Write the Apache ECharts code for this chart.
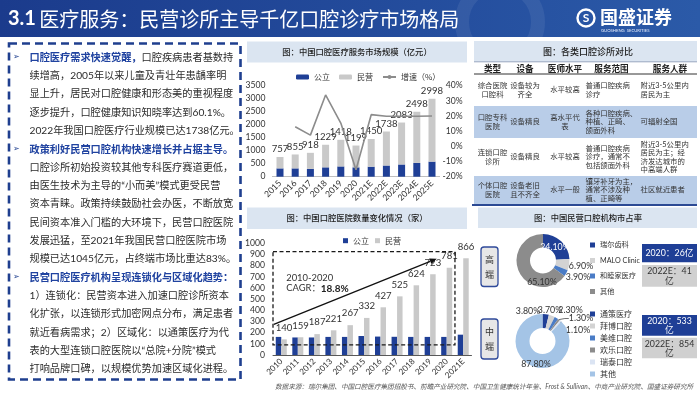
<!DOCTYPE html>
<html><head><meta charset="utf-8">
<script src="https://cdn.jsdelivr.net/npm/echarts@6/dist/echarts.min.js"></script>
<style>html,body{margin:0;padding:0;background:#fff}#c{width:700px;height:394px}</style>
</head><body><div id="c"></div>
<script>
const NUM = 'Lato, "Noto Sans CJK SC", sans-serif';
const CJK = '"Noto Sans CJK SC", sans-serif';
const NAVY = '#1f3f96', GRAY = '#c9c9c9', TXT = '#333';

// ---- Chart 1: 中国口腔医疗服务市场规模（亿元）
const marketYears = ['2015','2016','2017','2018','2019','2020','2021E','2022E','2023E','2024E','2025E'];
const marketTotal = [757, 855, 918, 1229, 1418, 1199, 1450, 1738, 2083, 2498, 2998];
const marketPublic = [320, 320, 300, 360, 395, 360, 385, 430, 470, 530, 580];
const marketPrivate = [437, 535, 618, 869, 1023, 839, 1065, 1308, 1613, 1968, 2418];
const marketGrowth = [null, 12.9, 7.4, 33.9, 15.4, -15.4, 20.9, 19.9, 19.9, 19.9, 20.0];
const marketLeftTicks = { min: 0, max: 3500, interval: 500 };
const marketRightTicks = { min: -20, max: 40, interval: 10 };

// ---- Chart 2: 中国口腔医院数量变化情况（家）
const hospitalYears = ['2010','2011','2012','2013','2014','2015','2016','2017','2018','2019','2020','2021E'];
const hospitalPublic = [162, 157, 157, 162, 162, 170, 165, 163, 162, 162, 162, 182];
const hospitalPrivate = [140, 159, 187, 221, 267, 332, 427, 525, 624, 723, 781, 866];
const hospitalTicks = { min: 0, max: 1000, interval: 100 };
const cagrLabel = ['2010-2020', 'CAGR：', '18.8%'];
const cagrBoxValues = [925, 90];          // dashed box top / bottom (家)
const cagrArrowFrom = [-0.45, 275];       // [category index, value]
const cagrArrowTo = [9.4, 862];
const cagrTextAt = [[0.3, 687], [0.3, 597]];

// ---- Pies: 中国民营口腔机构市占率
const highEndNames = ['瑞尔齿科', 'MALO Clinic', '和睦家医疗', '其他'];
const highEndShares = [24.1, 6.9, 3.9, 65.1];
const midEndNames = ['通策医疗', '拜博口腔', '美维口腔', '欢乐口腔', '瑞泰口腔', '其他'];
const midEndShares = [3.8, 3.7, 2.3, 1.3, 1.1, 87.8];
const highEndColors = ['#1f3f96', '#d3d3d3', '#4a7cc6', '#8c8c8c'];
const midEndColors = ['#1f3f96', '#d3d3d3', '#4a7cc6', '#8c8c8c', '#dbe4f3', '#a4c4e6'];
const segmentLabels = ['高\n端', '中\n端'];
const marketSizeBoxes = ['2020：26亿', '2022E：41\n亿', '2020：533\n亿', '2022E：854\n亿'];

// ---- Table: 各类口腔诊所对比
const tableHeader = ['类型', '设备', '医师水平', '服务范围', '服务人群'];
const tableRows = [
  ['综合医院\n口腔科', '设备较为\n齐全', '水平较高', '普通口腔疾病\n诊疗', '附近3-5公里内\n居民为主'],
  ['口腔专科\n医院', '设备精良', '高水平代\n表', '各种口腔疾病、\n种植、正畸、\n颌面外科', '可辐射全国'],
  ['连锁口腔\n诊所', '设备精良', '水平较高', '普通口腔疾病\n诊疗，通常不\n包括颌面外科', '附近3-5公里内\n居民为主；经\n济发达城市的\n中高端人群'],
  ['个体口腔\n医院', '设备老旧\n且不齐全', '水平一般', '镶牙补牙为主，\n通常不涉及种\n植、正畸等', '社区就近患者']
];

// ---- Texts
const slideTitleNum = '3.1';
const slideTitle = '医疗服务：民营诊所主导千亿口腔诊疗市场格局';
const chartTitles = ['图：中国口腔医疗服务市场规模（亿元）', '图：中国口腔医院数量变化情况（家）', '图：各类口腔诊所对比', '图：中国民营口腔机构市占率'];
const panelLines = [
  ['口腔医疗需求快速觉醒，', '口腔疾病患者基数持'],
  ['', '续增高，2005年以来儿童及青壮年患龋率明'],
  ['', '显上升，居民对口腔健康和形态美的重视程度'],
  ['', '逐步提升，口腔健康知识知晓率达到60.1%。'],
  ['', '2022年我国口腔医疗行业规模已达1738亿元。'],
  ['政策利好民营口腔机构快速增长并占据主导。', ''],
  ['', '口腔诊所初始投资较其他专科医疗赛道更低，'],
  ['', '由医生技术为主导的“小而美”模式更受民营'],
  ['', '资本青睐。政策持续鼓励社会办医，不断放宽'],
  ['', '民间资本准入门槛的大环境下，民营口腔医院'],
  ['', '发展迅猛，至2021年我国民营口腔医院市场'],
  ['', '规模已达1045亿元，占终端市场比重达83%。'],
  ['民营口腔医疗机构呈现连锁化与区域化趋势：', ''],
  ['', '1）连锁化：民营资本进入加速口腔诊所资本'],
  ['', '化扩张，以连锁形式加密网点分布，满足患者'],
  ['', '就近看病需求；2）区域化：以通策医疗为代'],
  ['', '表的大型连锁口腔医院以“总院+分院”模式'],
  ['', '打响品牌口碑，以规模优势加速区域化进程。']
];
const sourceNote = '数据来源：瑞尔集团、中国口腔医疗集团招股书、前瞻产业研究院、中国卫生健康统计年鉴、Frost & Sullivan、中商产业研究院、国盛证券研究所';

// ================= layout =================
const PIE1_CENTER = [543, 260.5], PIE2_CENTER = [542.5, 341];
const pie1LabelOffsets = [[12, -13], [38, 6], [35, 17], [-1, 22]];
const pie2LabelOffsets = [[-14.5, -30], [7.5, -30.5], [28, -31], [38.5, -22.5], [35.5, -10.5], [-6.5, 23]];

const g = [];
// header band
g.push({ type: 'rect', silent: true, shape: { x: 0, y: 0, width: 700, height: 37 },
  style: { fill: { type: 'linear', x: 0, y: 0, x2: 1, y2: 0, colorStops: [{ offset: 0, color: '#1b3b8c' }, { offset: 0.6, color: '#244d9d' }, { offset: 1, color: '#2b5aa8' }] } } });
g.push({ type: 'circle', silent: true, shape: { cx: 500, cy: 22, r: 38 }, style: { fill: 'none', stroke: 'rgba(255,255,255,0.07)', lineWidth: 14 } });
g.push({ type: 'text', silent: true, x: 8, y: 19, style: {
  text: '{a|' + slideTitleNum + '} {b|' + slideTitle + '}', verticalAlign: 'middle',
  rich: { a: { fontFamily: NUM, fontSize: 20, fontWeight: 'bold', fill: '#fff' }, b: { fontFamily: CJK, fontSize: 20, fill: '#fff' } } } });
// logo
g.push({ type: 'circle', silent: true, shape: { cx: 586, cy: 18, r: 8.5 }, style: { fill: 'none', stroke: '#fff', lineWidth: 2.4 } });
g.push({ type: 'text', silent: true, x: 586, y: 18.5, style: { text: 'S', fontFamily: NUM, fontWeight: 'bold', fontSize: 12, fill: '#fff', align: 'center', verticalAlign: 'middle' } });
g.push({ type: 'text', silent: true, x: 600, y: 17, style: { text: '国盛证券', fontFamily: CJK, fontWeight: 'bold', fontSize: 18, fill: '#fff', verticalAlign: 'middle' } });
g.push({ type: 'text', silent: true, x: 601, y: 30.5, style: { text: 'GUOSHENG  SECURITIES', fontFamily: NUM, fontSize: 4.2, fill: '#e8eefc', verticalAlign: 'middle' } });

// left dashed panel
g.push({ type: 'rect', silent: true, shape: { x: 9, y: 43.5, width: 231.5, height: 336 },
  style: { fill: 'none', stroke: '#1f3f8f', lineWidth: 2.6, lineDash: [8, 5] } });
panelLines.forEach((ln, i) => {
  const y = 57.3 + i * 18.33;
  if (ln[0]) g.push({ type: 'text', silent: true, x: 13, y: y, style: { text: '➢', fontFamily: '"DejaVu Sans", sans-serif', fontSize: 8, fill: '#1f3f8f', verticalAlign: 'middle' } });
  let t = '';
  if (ln[0]) t += '{h|' + ln[0] + '}';
  if (ln[1]) t += '{t|' + ln[1] + '}';
  g.push({ type: 'text', silent: true, x: 29.5, y: y, style: { text: t, verticalAlign: 'middle',
    rich: { h: { fontFamily: CJK, fontSize: 10.2, fontWeight: 'bold', fill: '#2043a0' }, t: { fontFamily: NUM, fontSize: 10.2, fill: '#2b2b2b' } } } });
});

// title bands
const bands = [[247, 41.5, 220, 21, 357, 52], [247, 207.5, 220, 21.5, 357, 218.3], [474, 41, 223, 20.5, 588, 51.5], [478, 207.5, 219, 20.5, 588, 217.8]];
bands.forEach((b, i) => {
  g.push({ type: 'rect', silent: true, shape: { x: b[0], y: b[1], width: b[2], height: b[3] }, style: { fill: '#dbe5f1' } });
  g.push({ type: 'text', silent: true, x: b[4], y: b[5], style: { text: chartTitles[i], fontFamily: CJK, fontSize: i === 2 ? 9 : 8.3, fontWeight: 500, fill: '#222', align: 'center', verticalAlign: 'middle' } });
});

// table
const colX = [492.5, 525, 565, 585.5, 640.5];
const colAlign = ['center', 'center', 'center', 'left', 'left'];
const rowBounds = [74, 106, 138, 176, 204];
g.push({ type: 'line', silent: true, shape: { x1: 474, y1: 61.8, x2: 697, y2: 61.8 }, style: { stroke: '#7f8fb0', lineWidth: 0.8 } });
tableHeader.forEach((h, j) => {
  const cx = j < 3 ? colX[j] : (j === 3 ? 611.5 : 670);
  g.push({ type: 'text', silent: true, x: cx, y: 68.3, style: { text: h, fontFamily: CJK, fontSize: 8.6, fontWeight: 'bold', fill: '#222', align: 'center', verticalAlign: 'middle' } });
});
g.push({ type: 'line', silent: true, shape: { x1: 474, y1: 74, x2: 697, y2: 74 }, style: { stroke: '#333', lineWidth: 1 } });
tableRows.forEach((row, r) => {
  const y0 = rowBounds[r], y1 = rowBounds[r + 1];
  if (r % 2 === 1) g.push({ type: 'rect', silent: true, shape: { x: 474, y: y0, width: 223, height: y1 - y0 }, style: { fill: '#b9cde8' } });
  row.forEach((cell, j) => {
    g.push({ type: 'text', silent: true, x: colX[j], y: (y0 + y1) / 2, style: { text: cell, fontFamily: NUM, fontSize: 7.4, lineHeight: 8.5, fill: '#333', align: colAlign[j], verticalAlign: 'middle' } });
  });
});
g.push({ type: 'line', silent: true, shape: { x1: 472, y1: 205, x2: 697, y2: 205 }, style: { stroke: '#2c4a94', lineWidth: 2 } });

// segment boxes
[[481, 247, 17, 39.5], [481, 319, 17, 40]].forEach((b, i) => {
  g.push({ type: 'rect', silent: true, shape: { x: b[0], y: b[1], width: b[2], height: b[3], r: 3 }, style: { fill: '#e7e7e7', stroke: '#2f4a9a', lineWidth: 1.3 } });
  g.push({ type: 'text', silent: true, x: b[0] + b[2] / 2, y: b[1] + b[3] / 2, style: { text: segmentLabels[i], fontFamily: CJK, fontSize: 9, lineHeight: 15, fill: '#333', align: 'center', verticalAlign: 'middle' } });
});
// market size boxes
[[642, 244, 55, 18.3], [642, 265, 55, 21.7], [642, 315, 55, 20.7], [642, 337.7, 55, 20.6]].forEach((b, i) => {
  const dark = i % 2 === 0;
  g.push({ type: 'rect', silent: true, shape: { x: b[0], y: b[1], width: b[2], height: b[3] }, style: { fill: dark ? '#1f3f96' : '#d0d0d0' } });
  g.push({ type: 'text', silent: true, x: b[0] + b[2] / 2, y: b[1] + b[3] / 2 + 0.5, style: { text: marketSizeBoxes[i], fontFamily: NUM, fontSize: 8.8, lineHeight: 9.5, fill: dark ? '#fff' : '#333', align: 'center', verticalAlign: 'middle' } });
});
// source
g.push({ type: 'text', silent: true, x: 275, y: 387, style: { text: sourceNote, fontFamily: NUM, fontSize: 6.6, fontStyle: 'italic', fill: '#555', verticalAlign: 'middle' } });

function pieLabelLayout(center, offsets) {
  return function (p) {
    const o = offsets[p.dataIndex];
    return { x: center[0] + o[0], y: center[1] + o[1], align: 'center', verticalAlign: 'middle' };
  };
}

const axisLabelBase = { fontFamily: NUM, fontSize: 8.6, color: TXT };
const plainNum = v => String(v);

const option = {
  animation: false,
  textStyle: { fontFamily: NUM },
  graphic: { elements: g },
  legend: [
    { data: ['公立', '民营', '增速（%）'], left: 291, top: 67, itemWidth: 13, itemHeight: 5, itemGap: 9,
      textStyle: { fontFamily: CJK, fontSize: 8, color: TXT, lineHeight: 10 } },
    { data: ['公立', '民营'], left: 338, top: 230.7, itemWidth: 5, itemHeight: 5, itemGap: 6, icon: 'rect',
      textStyle: { fontFamily: CJK, fontSize: 8, color: TXT, lineHeight: 10 } },
    { data: highEndNames, orient: 'vertical', left: 585, top: 234.5, itemWidth: 5, itemHeight: 5, itemGap: 4.5, icon: 'rect', itemTextGap: 3, z: 10,
      textStyle: { fontFamily: NUM, fontSize: 7.2, color: TXT, lineHeight: 11 } },
    { data: midEndNames.map((n, i) => ({ name: n, itemStyle: { color: midEndColors[i] } })), orient: 'vertical', left: 585, top: 303.5, itemWidth: 5, itemHeight: 5, itemGap: 1, icon: 'rect', itemTextGap: 3,
      textStyle: { fontFamily: NUM, fontSize: 8, color: TXT, lineHeight: 11 } }
  ],
  grid: [
    { left: 272.4, right: 260.4, top: 85.7, bottom: 217.3 },
    { left: 273, right: 228.5, top: 243.3, bottom: 39 }
  ],
  xAxis: [
    { type: 'category', gridIndex: 0, data: marketYears,
      axisLine: { lineStyle: { color: '#bfbfbf' } }, axisTick: { lineStyle: { color: '#bfbfbf' }, length: 3 },
      axisLabel: Object.assign({ rotate: 45, margin: 5, interval: 0 }, axisLabelBase) },
    { type: 'category', gridIndex: 1, data: hospitalYears,
      axisLine: { lineStyle: { color: '#595959' } }, axisTick: { lineStyle: { color: '#595959' }, length: 3 },
      axisLabel: Object.assign({ rotate: 45, margin: 5, interval: 0 }, axisLabelBase, { fontSize: 8.2 }) }
  ],
  yAxis: [
    Object.assign({ type: 'value', gridIndex: 0, splitLine: { show: false }, axisLine: { show: false }, axisTick: { show: false },
      axisLabel: Object.assign({ margin: 7, formatter: plainNum }, axisLabelBase) }, marketLeftTicks),
    Object.assign({ type: 'value', gridIndex: 0, position: 'right', splitLine: { show: false }, axisLine: { show: false }, axisTick: { show: false },
      axisLabel: Object.assign({ margin: 23, align: 'right', formatter: v => v + '%' }, axisLabelBase) }, marketRightTicks),
    Object.assign({ type: 'value', gridIndex: 1, splitLine: { show: false }, axisLine: { show: false }, axisTick: { show: false },
      axisLabel: Object.assign({ margin: 8, formatter: plainNum }, axisLabelBase) }, hospitalTicks)
  ],
  series: [
    { name: '公立', type: 'bar', xAxisIndex: 0, yAxisIndex: 0, stack: 'm', barWidth: 7, data: marketPublic, itemStyle: { color: NAVY } },
    { name: '民营', type: 'bar', xAxisIndex: 0, yAxisIndex: 0, stack: 'm', barWidth: 7, data: marketPrivate, itemStyle: { color: GRAY },
      label: { show: true, position: 'top', distance: 3, fontFamily: NUM, fontSize: 9.6, color: TXT, formatter: p => String(marketTotal[p.dataIndex]) } },
    { name: '增速（%）', type: 'line', xAxisIndex: 0, yAxisIndex: 1, data: marketGrowth, symbol: 'none', z: 5,
      lineStyle: { color: '#8c8c8c', width: 1.6 }, itemStyle: { color: '#8c8c8c' } },

    { name: '公立', type: 'bar', xAxisIndex: 1, yAxisIndex: 2, barWidth: 5.5, barGap: '0%', data: hospitalPublic, itemStyle: { color: NAVY } },
    { name: '民营', type: 'bar', xAxisIndex: 1, yAxisIndex: 2, barWidth: 5.5, barGap: '0%', data: hospitalPrivate, itemStyle: { color: GRAY },
      label: { show: true, position: 'top', distance: 7, fontFamily: NUM, fontSize: 9.6, color: TXT } },
    { type: 'custom', xAxisIndex: 1, yAxisIndex: 2, z: 6, silent: true, data: [[0, 0]],
      renderItem: function (params, api) {
        const band = api.size([1, 0])[0];
        const at = (idx, val) => { const p = api.coord([0, val]); return [p[0] + idx * band, p[1]]; };
        const tl = at(-0.5, cagrBoxValues[0]), br = at(10.5, cagrBoxValues[1]);
        const a0 = at(cagrArrowFrom[0], cagrArrowFrom[1]), a1 = at(cagrArrowTo[0], cagrArrowTo[1]);
        const dx = a1[0] - a0[0], dy = a1[1] - a0[1], len = Math.sqrt(dx * dx + dy * dy);
        const ux = dx / len, uy = dy / len, hl = 7, hw = 3;
        const base = [a1[0] - ux * hl, a1[1] - uy * hl];
        const t1 = at(cagrTextAt[0][0], cagrTextAt[0][1]), t2 = at(cagrTextAt[1][0], cagrTextAt[1][1]);
        return { type: 'group', children: [
          { type: 'rect', shape: { x: tl[0], y: tl[1], width: br[0] - tl[0], height: br[1] - tl[1] }, style: { fill: 'none', stroke: '#1a1a1a', lineWidth: 1.3, lineDash: [4, 2.5] } },
          { type: 'line', shape: { x1: a0[0], y1: a0[1], x2: base[0], y2: base[1] }, style: { stroke: '#111', lineWidth: 1.3 } },
          { type: 'polygon', shape: { points: [a1, [base[0] - uy * hw, base[1] + ux * hw], [base[0] + uy * hw, base[1] - ux * hw]] }, style: { fill: '#111' } },
          { type: 'text', x: t1[0], y: t1[1], style: { text: cagrLabel[0], fontFamily: NUM, fontSize: 9.4, fill: '#333', verticalAlign: 'middle' } },
          { type: 'text', x: t2[0], y: t2[1], style: { text: cagrLabel[1] + '{b|' + cagrLabel[2] + '}', fontFamily: NUM, fontSize: 9.4, fill: '#333', verticalAlign: 'middle',
            rich: { b: { fontFamily: NUM, fontSize: 10, fontWeight: 'bold', fill: '#222' } } } }
        ] };
      } },

    { type: 'pie', center: PIE1_CENTER, radius: [13, 26.5], startAngle: 90, clockwise: true, avoidLabelOverlap: false,
      data: highEndNames.map((n, i) => ({ name: n, value: highEndShares[i], itemStyle: { color: highEndColors[i] },
        label: { color: i === 0 ? '#fff' : '#333' } })),
      label: { show: true, position: 'outside', fontFamily: NUM, fontSize: 8.8, formatter: p => p.value.toFixed(2) + '%' },
      labelLine: { show: false },
      labelLayout: pieLabelLayout(PIE1_CENTER, pie1LabelOffsets) },
    { type: 'pie', center: PIE2_CENTER, radius: [13, 27], startAngle: 90, clockwise: true, avoidLabelOverlap: false,
      data: midEndNames.map((n, i) => ({ name: n, value: midEndShares[i], itemStyle: { color: midEndColors[i] },
        labelLine: { show: i === 3 || i === 4 } })),
      label: { show: true, position: 'outside', fontFamily: NUM, fontSize: 8.8, color: '#333', formatter: p => p.value.toFixed(2) + '%' },
      labelLine: { show: false, length: 4, length2: 4, lineStyle: { color: '#333', width: 0.7 } },
      labelLayout: pieLabelLayout(PIE2_CENTER, pie2LabelOffsets) }
  ]
};

const chart = echarts.init(document.getElementById('c'), null, { renderer: 'canvas', width: 700, height: 394 });
chart.setOption(option);
</script>
</body></html>
